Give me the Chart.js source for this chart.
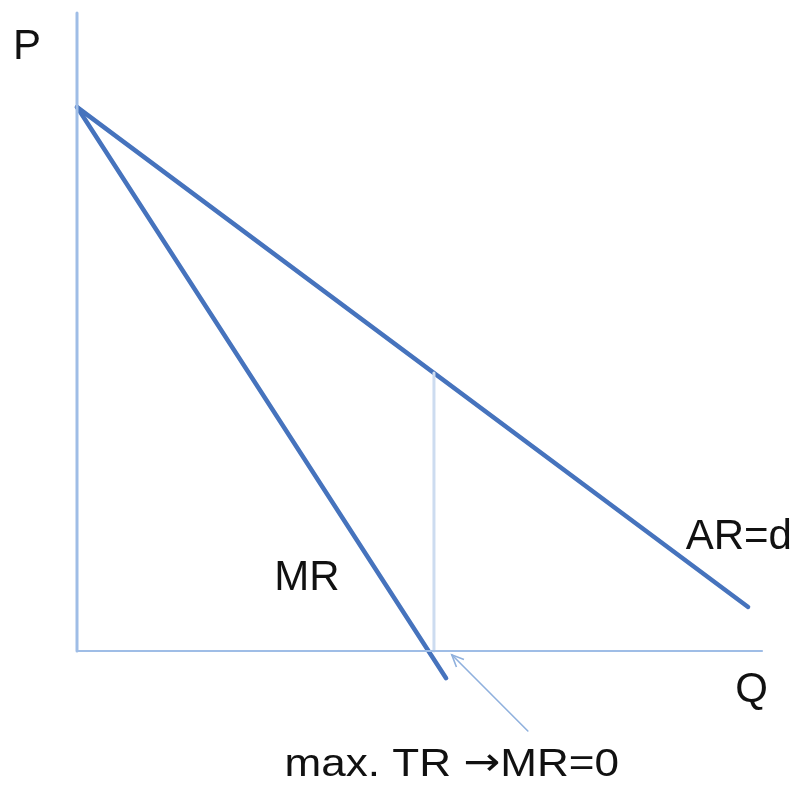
<!DOCTYPE html>
<html>
<head>
<meta charset="utf-8">
<script src="https://cdn.jsdelivr.net/npm/chart.js@4"></script>
<style>
html,body{margin:0;padding:0;background:#fff;}
#wrap{width:802px;height:789px;}
</style>
</head>
<body>
<div id="wrap"><canvas id="c" width="802" height="789"></canvas></div>
<script>
// Quantity / price values
const arQ = [0, 18.8];
const arP = [10, 0.81];
const mrQ = [0, 10.34];
const mrP = [10, -0.5];
const tickQ = [10, 10];          // vertical line at max TR
const tickP = [0, 5.11];
const arrowQ = [12.63, 10.5];    // annotation arrow
const arrowP = [-1.47, -0.07];
const axisMaxQ = 19.19;
const axisMaxP = 11.73;
const labelTexts = ['P', 'Q', 'MR', 'AR=d'];
const labelQ = [-1.4, 18.9, 6.44, 18.54];
const labelP = [11.1, -0.72, 1.34, 2.08];
const noteParts = ['max. TR ', '\u2192', 'MR=0'];
const noteQ = 10.5;
const noteP = -2.1;

const pts = (xs, ys) => xs.map((x, i) => ({x: x, y: ys[i]}));

const lineBlue = '#4673bd';
const axisBlue = '#9fbde6';

const labelPlugin = {
  id: 'labels',
  afterDatasetsDraw(chart) {
    const ctx = chart.ctx;
    const xs = chart.scales.x, ys = chart.scales.y;
    // arrowhead on annotation arrow
    const x0 = xs.getPixelForValue(arrowQ[0]), y0 = ys.getPixelForValue(arrowP[0]);
    const x1 = xs.getPixelForValue(arrowQ[1]), y1 = ys.getPixelForValue(arrowP[1]);
    const ang = Math.atan2(y1 - y0, x1 - x0);
    ctx.save();
    ctx.strokeStyle = '#8fb0dd';
    ctx.lineWidth = 1.6;
    ctx.beginPath();
    const L = 13, a = 0.42;
    ctx.moveTo(x1 - L * Math.cos(ang - a), y1 - L * Math.sin(ang - a));
    ctx.lineTo(x1, y1);
    ctx.lineTo(x1 - L * Math.cos(ang + a), y1 - L * Math.sin(ang + a));
    ctx.stroke();
    ctx.restore();
    // text labels
    ctx.save();
    ctx.fillStyle = '#111';
    ctx.textAlign = 'center';
    ctx.textBaseline = 'middle';
    ctx.font = '42px "Liberation Sans", Arial, sans-serif';
    labelTexts.forEach((t, i) => {
      ctx.fillText(t, xs.getPixelForValue(labelQ[i]), ys.getPixelForValue(labelP[i]));
    });
    // bottom note, slightly wide lettering as in the original
    const fonts = ['39px "Liberation Sans", Arial, sans-serif',
                   '39px "DejaVu Sans", sans-serif',
                   '39px "Liberation Sans", Arial, sans-serif'];
    let total = 0;
    const widths = noteParts.map((t, i) => { ctx.font = fonts[i]; const w = ctx.measureText(t).width; total += w; return w; });
    const sx = 1.13;
    const cx = xs.getPixelForValue(noteQ), cy = ys.getPixelForValue(noteP);
    ctx.translate(cx, cy);
    ctx.scale(sx, 1);
    ctx.textAlign = 'left';
    let x = -total / 2;
    noteParts.forEach((t, i) => { ctx.font = fonts[i]; ctx.fillText(t, x, 0); x += widths[i]; });
    ctx.restore();
  }
};

new Chart(document.getElementById('c'), {
  type: 'scatter',
  data: {
    datasets: [
      {data: pts([0, 0], [0, axisMaxP]), borderColor: axisBlue, borderWidth: 3},
      {data: pts([0, axisMaxQ], [0, 0]), borderColor: axisBlue, borderWidth: 2.2},
      {data: pts(tickQ, tickP), borderColor: '#cddcf0', borderWidth: 3},
      {data: pts(arrowQ, arrowP), borderColor: '#8fb0dd', borderWidth: 1.6},
      {data: pts(arQ, arP), borderColor: lineBlue, borderWidth: 4.5},
      {data: pts(mrQ, mrP), borderColor: lineBlue, borderWidth: 4.5}
    ].map(d => Object.assign({
      showLine: true, pointRadius: 0, pointHoverRadius: 0, clip: false,
      borderCapStyle: 'round', fill: false, tension: 0
    }, d))
  },
  options: {
    responsive: false,
    animation: false,
    events: [],
    layout: {padding: {left: 77, right: 40, top: 13, bottom: 138}},
    plugins: {legend: {display: false}, tooltip: {enabled: false}},
    scales: {
      x: {type: 'linear', min: 0, max: axisMaxQ, display: false},
      y: {type: 'linear', min: 0, max: axisMaxP, display: false}
    }
  },
  plugins: [labelPlugin]
});
</script>
</body>
</html>
